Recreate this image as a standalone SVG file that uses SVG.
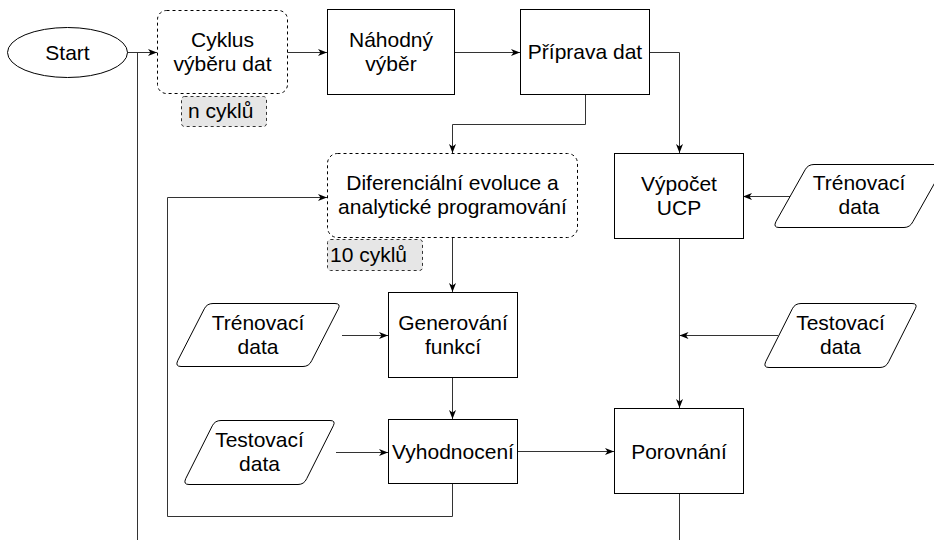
<svg xmlns="http://www.w3.org/2000/svg" width="934" height="540" viewBox="0 0 934 540">
<style>
.box{fill:#fff;stroke:#000;stroke-width:1}
.dash{fill:#fff;stroke:#000;stroke-width:1;stroke-dasharray:3 3}
.lab{fill:#e6e6e6;stroke:#333;stroke-width:1;stroke-dasharray:3 3}
.t{font-family:"Liberation Sans",Arial,sans-serif;font-size:21px;fill:#000;text-anchor:middle}
.tl{font-family:"Liberation Sans",Arial,sans-serif;font-size:21px;fill:#000;text-anchor:start}
.c{fill:none;stroke:#333;stroke-width:1}
</style>
<defs>
<marker id="arr" markerUnits="userSpaceOnUse" markerWidth="10" markerHeight="8" refX="9" refY="4" orient="auto">
<path d="M0,0.5 L9,4 L0,7.5 L2.5,4 Z" fill="#000"/>
</marker>
</defs>
<rect width="934" height="540" fill="#fff"/>
<g id="connectors">
<path class="c" d="M127,52.5 L157,52.5" marker-end="url(#arr)"/>
<path class="c" d="M137.5,52.5 L137.5,540"/>
<path class="c" d="M287,52.5 L327,52.5" marker-end="url(#arr)"/>
<path class="c" d="M454,52.5 L520,52.5" marker-end="url(#arr)"/>
<path class="c" d="M649,52.5 L679.5,52.5 L679.5,153" marker-end="url(#arr)"/>
<path class="c" d="M585.5,94 L585.5,124.5 L452.5,124.5 L452.5,153" marker-end="url(#arr)"/>
<path class="c" d="M791,196.5 L743,196.5" marker-end="url(#arr)"/>
<path class="c" d="M679.5,238 L679.5,408" marker-end="url(#arr)"/>
<path class="c" d="M778,335.5 L679.5,335.5" marker-end="url(#arr)"/>
<path class="c" d="M452.5,237 L452.5,292" marker-end="url(#arr)"/>
<path class="c" d="M342,335.5 L388,335.5" marker-end="url(#arr)"/>
<path class="c" d="M452.5,377 L452.5,419" marker-end="url(#arr)"/>
<path class="c" d="M336,452.5 L388,452.5" marker-end="url(#arr)"/>
<path class="c" d="M517,451.5 L614,451.5" marker-end="url(#arr)"/>
<path class="c" d="M452.5,483 L452.5,516.5 L167.5,516.5 L167.5,197.5 L327,197.5" marker-end="url(#arr)"/>
<path class="c" d="M679.5,493 L679.5,540"/>
</g>
<g id="start">
<ellipse class="box" cx="67.5" cy="52.5" rx="60" ry="25" stroke-width="1.5"/>
<text class="t" x="67.5" y="60">Start</text>
</g>
<g id="cyklus">
<rect class="dash" x="157.5" y="10.5" width="130" height="83" rx="9"/>
<text class="t" x="222.5" y="47">Cyklus</text>
<text class="t" x="222.5" y="71">výběru dat</text>
</g>
<g id="n-cyklu">
<rect class="lab" x="181.5" y="96.5" width="85" height="30" rx="3"/>
<text class="tl" x="188" y="118">n cyklů</text>
</g>
<g id="nahodny">
<rect class="box" x="327.5" y="9.5" width="127" height="85"/>
<text class="t" x="391" y="47">Náhodný</text>
<text class="t" x="391" y="71">výběr</text>
</g>
<g id="priprava">
<rect class="box" x="520.5" y="9.5" width="129" height="85"/>
<text class="t" x="585" y="59">Příprava dat</text>
</g>
<g id="diferencialni">
<rect class="dash" x="327.5" y="153.5" width="250" height="84" rx="10"/>
<text class="t" x="452.5" y="190">Diferenciální evoluce a</text>
<text class="t" x="452.5" y="214">analytické programování</text>
</g>
<g id="deset-cyklu">
<rect class="lab" x="327.5" y="239.5" width="95" height="31" rx="3"/>
<text class="tl" x="330" y="262">10 cyklů</text>
</g>
<g id="vypocet">
<rect class="box" x="614.5" y="153.5" width="129" height="85"/>
<text class="t" x="679" y="191">Výpočet</text>
<text class="t" x="679" y="215">UCP</text>
</g>
<g id="trenovaci-r">
<path class="box" d="M814,164.5 L939,164.5 Q945,164.5 942.1,169.8 L912.9,221.7 Q910,227.5 904,227.5 L779,227.5 Q773,227.5 775.9,221.7 L805.1,169.8 Q808,164.5 814,164.5 Z"/>
<text class="t" x="859" y="190">Trénovací</text>
<text class="t" x="859" y="214">data</text>
</g>
<g id="testovaci-r">
<path class="box" d="M801,303.5 L912,303.5 Q918,303.5 915.3,308.8 L888.7,361.7 Q886,367.5 880,367.5 L769,367.5 Q763,367.5 765.7,361.7 L792.3,308.8 Q795,303.5 801,303.5 Z"/>
<text class="t" x="840.5" y="330">Testovací</text>
<text class="t" x="840.5" y="354">data</text>
</g>
<g id="generovani">
<rect class="box" x="388.5" y="292.5" width="129" height="85"/>
<text class="t" x="453" y="330">Generování</text>
<text class="t" x="453" y="354">funkcí</text>
</g>
<g id="trenovaci-l">
<path class="box" d="M213,303.5 L335,303.5 Q341,303.5 338.3,308.8 L311.7,360.7 Q309,366.5 303,366.5 L181,366.5 Q175,366.5 177.7,360.7 L204.3,308.8 Q207,303.5 213,303.5 Z"/>
<text class="t" x="258" y="330">Trénovací</text>
<text class="t" x="258" y="354">data</text>
</g>
<g id="vyhodnoceni">
<rect class="box" x="388.5" y="419.5" width="129" height="64"/>
<text class="t" x="453" y="459">Vyhodnocení</text>
</g>
<g id="testovaci-l">
<path class="box" d="M221,420.5 L330,420.5 Q336,420.5 333.3,425.8 L306.7,478.7 Q304,484.5 298,484.5 L189,484.5 Q183,484.5 185.7,478.7 L212.3,425.8 Q215,420.5 221,420.5 Z"/>
<text class="t" x="259.5" y="447">Testovací</text>
<text class="t" x="259.5" y="471">data</text>
</g>
<g id="porovnani">
<rect class="box" x="614.5" y="408.5" width="129" height="85"/>
<text class="t" x="679" y="459">Porovnání</text>
</g>
</svg>
